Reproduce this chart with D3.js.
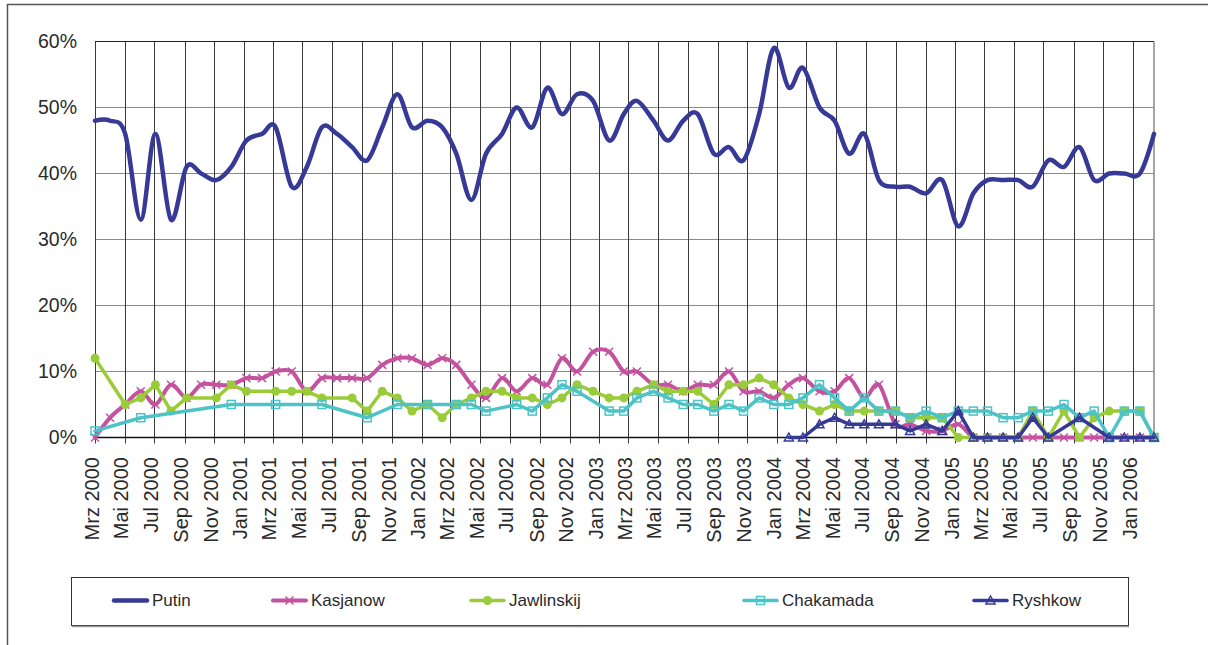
<!DOCTYPE html>
<html>
<head>
<meta charset="utf-8">
<script src="https://cdn.jsdelivr.net/npm/d3@7"></script>
<style>
body { margin: 0; background: #fff; }
svg { display: block; font-family: "Liberation Sans", Arial, sans-serif; }
</style>
</head>
<body>
<svg id="chart" width="1208" height="645"></svg>
<script>
//survey dates (one poll per ~month)
var surveyDates = ["2000-03-01","2000-04-01","2000-05-02","2000-06-03","2000-07-03","2000-08-04","2000-09-05","2000-10-05","2000-11-05","2000-12-06",
    "2001-01-06","2001-02-07","2001-03-07","2001-04-09","2001-05-10","2001-06-10","2001-07-11","2001-08-11","2001-09-11","2001-10-12",
    "2001-11-12","2001-12-12","2002-01-13","2002-02-12","2002-03-13","2002-04-13","2002-05-13","2002-06-15","2002-07-15","2002-08-16",
    "2002-09-16","2002-10-16","2002-11-16","2002-12-19","2003-01-21","2003-02-20","2003-03-19","2003-04-22","2003-05-22","2003-06-22",
    "2003-07-22","2003-08-24","2003-09-24","2003-10-24","2003-11-25","2003-12-25","2004-01-25","2004-02-23","2004-03-28","2004-04-28",
    "2004-05-28","2004-06-28","2004-07-28","2004-08-31","2004-09-30","2004-11-02","2004-12-05","2005-01-07","2005-02-07","2005-03-08",
    "2005-04-09","2005-05-10","2005-06-09","2005-07-11","2005-08-12","2005-09-13","2005-10-13","2005-11-13","2005-12-14","2006-01-15",
    "2006-02-13"];

var monthNames = ["Jan","Feb","Mrz","Apr","Mai","Jun","Jul","Aug","Sep","Okt","Nov","Dez"];
var yTicks = [0, 10, 20, 30, 40, 50, 60];

//values in percent
var putin = [48,48,46,33,46,33,41,40,39,41,
    45,46,47,38,41,47,46,44,42,47,
    52,47,48,47,43,36,43,46,50,47,
    53,49,52,51,45,49,51,48,45,48,
    49,43,44,42,49,59,53,56,50,48,
    43,46,39,38,38,37,39,32,37,39,
    39,39,38,42,41,44,39,40,40,40,46];

var kasjanow = [0,3,5,7,5,8,6,8,8,8,
    9,9,10,10,7,9,9,9,9,11,
    12,12,11,12,11,8,6,9,7,9,
    8,12,10,13,13,10,10,8,8,7,
    8,8,10,7,7,6,8,9,7,7,
    9,6,8,2,2,1,1,2,0,0,
    0,0,0,0,0,0,0,0,0,0,0];

var jawlinskij = [12,null,5,6,8,4,6,null,6,8,
    7,null,7,7,7,6,null,6,4,7,
    6,4,5,3,5,6,7,7,6,6,
    5,6,8,7,6,6,7,8,7,7,
    7,5,8,8,9,8,6,5,4,5,
    4,4,4,4,3,3,3,0,0,0,
    0,0,4,0,4,0,3,4,4,4,0];

var chakamada = [1,null,null,3,null,null,null,null,null,5,
    null,null,5,null,null,5,null,null,3,null,
    5,null,5,null,5,5,4,null,5,4,
    6,8,7,null,4,4,6,7,6,5,
    5,4,5,4,6,5,5,6,8,6,
    4,6,4,4,3,4,3,4,4,4,
    3,3,4,4,5,3,4,0,4,4,0];

var ryshkow = [null,null,null,null,null,null,null,null,null,null,
    null,null,null,null,null,null,null,null,null,null,
    null,null,null,null,null,null,null,null,null,null,
    null,null,null,null,null,null,null,null,null,null,
    null,null,null,null,null,null,0,0,2,3,
    2,2,2,2,1,2,1,4,0,0,
    0,0,3,0,null,3,null,0,0,0,0];

var seriesNames = ["Putin", "Kasjanow", "Jawlinskij", "Chakamada", "Ryshkow"];
var seriesValues = [putin, kasjanow, jawlinskij, chakamada, ryshkow];
var seriesColors = ["#363a96", "#c4529f", "#9acb38", "#4cc3c7", "#363a96"];
var seriesMarkers = ["none", "x", "circle", "square", "triangle"];
var seriesSmooth = [true, true, false, false, false];
var seriesWidth = [4.5, 4, 3.5, 3.5, 3.5];

var parseDate = d3.timeParse("%Y-%m-%d");
var dates = surveyDates.map(parseDate);

var svg = d3.select("#chart");

//outer frame
svg.append("path")
    .attr("d", "M7.5,645V4.5H1208")
    .attr("fill", "none")
    .attr("stroke", "#555")
    .attr("stroke-width", 1.5);

//scales
var xScale = d3.scaleTime()
    .domain([dates[0], dates[dates.length - 1]])
    .range([95, 1154]);
var yScale = d3.scaleLinear()
    .domain([0, 60])
    .range([437.5, 41.5]);

var tickDates = d3.timeMonth.every(2).range(dates[0], dates[dates.length - 1]);

//horizontal grid
svg.append("g").selectAll("line")
    .data(yTicks)
    .enter()
    .append("line")
    .attr("x1", xScale.range()[0])
    .attr("x2", xScale.range()[1])
    .attr("y1", function(d) { return yScale(d); })
    .attr("y2", function(d) { return yScale(d); })
    .attr("stroke", function(d) { return d == 60 ? "#222" : "#8a8a8a"; })
    .attr("stroke-width", 1);

//vertical grid + ticks
svg.append("g").selectAll("line")
    .data(tickDates)
    .enter()
    .append("line")
    .attr("x1", function(d) { return Math.round(xScale(d)) + 0.5; })
    .attr("x2", function(d) { return Math.round(xScale(d)) + 0.5; })
    .attr("y1", yScale(60))
    .attr("y2", yScale(0) + 6)
    .attr("stroke", "#3a3a3a")
    .attr("stroke-width", 1);

//right border
svg.append("line")
    .attr("x1", 1154).attr("x2", 1154)
    .attr("y1", yScale(60)).attr("y2", yScale(0))
    .attr("stroke", "#888").attr("stroke-width", 1.5);

//zero line
svg.append("line")
    .attr("x1", 95).attr("x2", 1154)
    .attr("y1", yScale(0)).attr("y2", yScale(0))
    .attr("stroke", "#111").attr("stroke-width", 1.5);

//y axis labels
var yAxis = d3.axisLeft(yScale)
    .tickValues(yTicks)
    .tickSize(0)
    .tickPadding(18)
    .tickFormat(function(d) { return d + "%"; });
var yG = svg.append("g")
    .attr("transform", "translate(95,0)")
    .call(yAxis);
yG.select(".domain").remove();
yG.selectAll("text")
    .attr("font-family", "Liberation Sans, Arial, sans-serif")
    .attr("font-size", 19.5)
    .attr("fill", "#2a2a2a");

//x axis labels, rotated
svg.append("g").selectAll("text")
    .data(tickDates)
    .enter()
    .append("text")
    .attr("transform", function(d) {
        return "translate(" + (xScale(d) - 3.5) + ",457) rotate(-90)";
    })
    .attr("text-anchor", "end")
    .attr("dy", "0.35em")
    .attr("font-size", 20)
    .attr("fill", "#2a2a2a")
    .text(function(d) { return monthNames[d.getMonth()] + " " + d.getFullYear(); });

//marker drawing
var drawMarker = function(sel, type, color)
{
    if (type == "x") {
        sel.append("path")
            .attr("d", "M-4,-4L4,4M-4,4L4,-4")
            .attr("stroke", color).attr("stroke-width", 1.5).attr("fill", "none");
    } else if (type == "circle") {
        sel.append("circle")
            .attr("r", 4.5)
            .attr("fill", color);
    } else if (type == "square") {
        sel.append("rect")
            .attr("x", -4).attr("y", -4).attr("width", 8).attr("height", 8)
            .attr("fill", "none").attr("stroke", color).attr("stroke-width", 1.5);
    } else if (type == "triangle") {
        sel.append("path")
            .attr("d", "M0,-4.5L4.5,3.5L-4.5,3.5Z")
            .attr("fill", "none").attr("stroke", color).attr("stroke-width", 1.5);
    }
};

//series
seriesValues.forEach(function(values, s)
{
    var pts = values.map(function(v, i) { return {date: dates[i], v: v}; })
        .filter(function(d) { return d.v != null; });

    var line = d3.line()
        .x(function(d) { return xScale(d.date); })
        .y(function(d) { return yScale(d.v); })
        .curve(seriesSmooth[s] ? d3.curveCardinal.tension(0) : d3.curveLinear);

    var g = svg.append("g");
    g.append("path")
        .datum(pts)
        .attr("d", line)
        .attr("fill", "none")
        .attr("stroke", seriesColors[s])
        .attr("stroke-width", seriesWidth[s])
        .attr("stroke-linejoin", "round")
        .attr("stroke-linecap", "round");

    if (seriesMarkers[s] != "none") {
        g.selectAll("g.m")
            .data(pts)
            .enter()
            .append("g")
            .attr("class", "m")
            .attr("transform", function(d) {
                return "translate(" + xScale(d.date) + "," + yScale(d.v) + ")";
            })
            .each(function() { drawMarker(d3.select(this), seriesMarkers[s], seriesColors[s]); });
    }
});

//legend
var legend = svg.append("g");
legend.append("rect")
    .attr("x", 71.5).attr("y", 577.5)
    .attr("width", 1057).attr("height", 48)
    .attr("fill", "#fff")
    .attr("stroke", "#333")
    .attr("stroke-width", 1);
legend.append("line")
    .attr("x1", 72).attr("x2", 1129)
    .attr("y1", 626.5).attr("y2", 626.5)
    .attr("stroke", "#999").attr("stroke-width", 1.5);

var legendX = [114, 273, 471, 744, 974];
seriesNames.forEach(function(name, s)
{
    var item = legend.append("g")
        .attr("transform", "translate(" + legendX[s] + ",600.5)");
    item.append("line")
        .attr("x1", 0).attr("x2", 33)
        .attr("stroke", seriesColors[s])
        .attr("stroke-width", seriesWidth[s])
        .attr("stroke-linecap", "round");
    var m = item.append("g").attr("transform", "translate(16.5,0)");
    drawMarker(m, seriesMarkers[s], seriesColors[s]);
    item.append("text")
        .attr("x", 38)
        .attr("dy", "0.35em")
        .attr("font-size", 17)
        .attr("fill", "#2a2a2a")
        .text(name);
});
</script>
</body>
</html>
